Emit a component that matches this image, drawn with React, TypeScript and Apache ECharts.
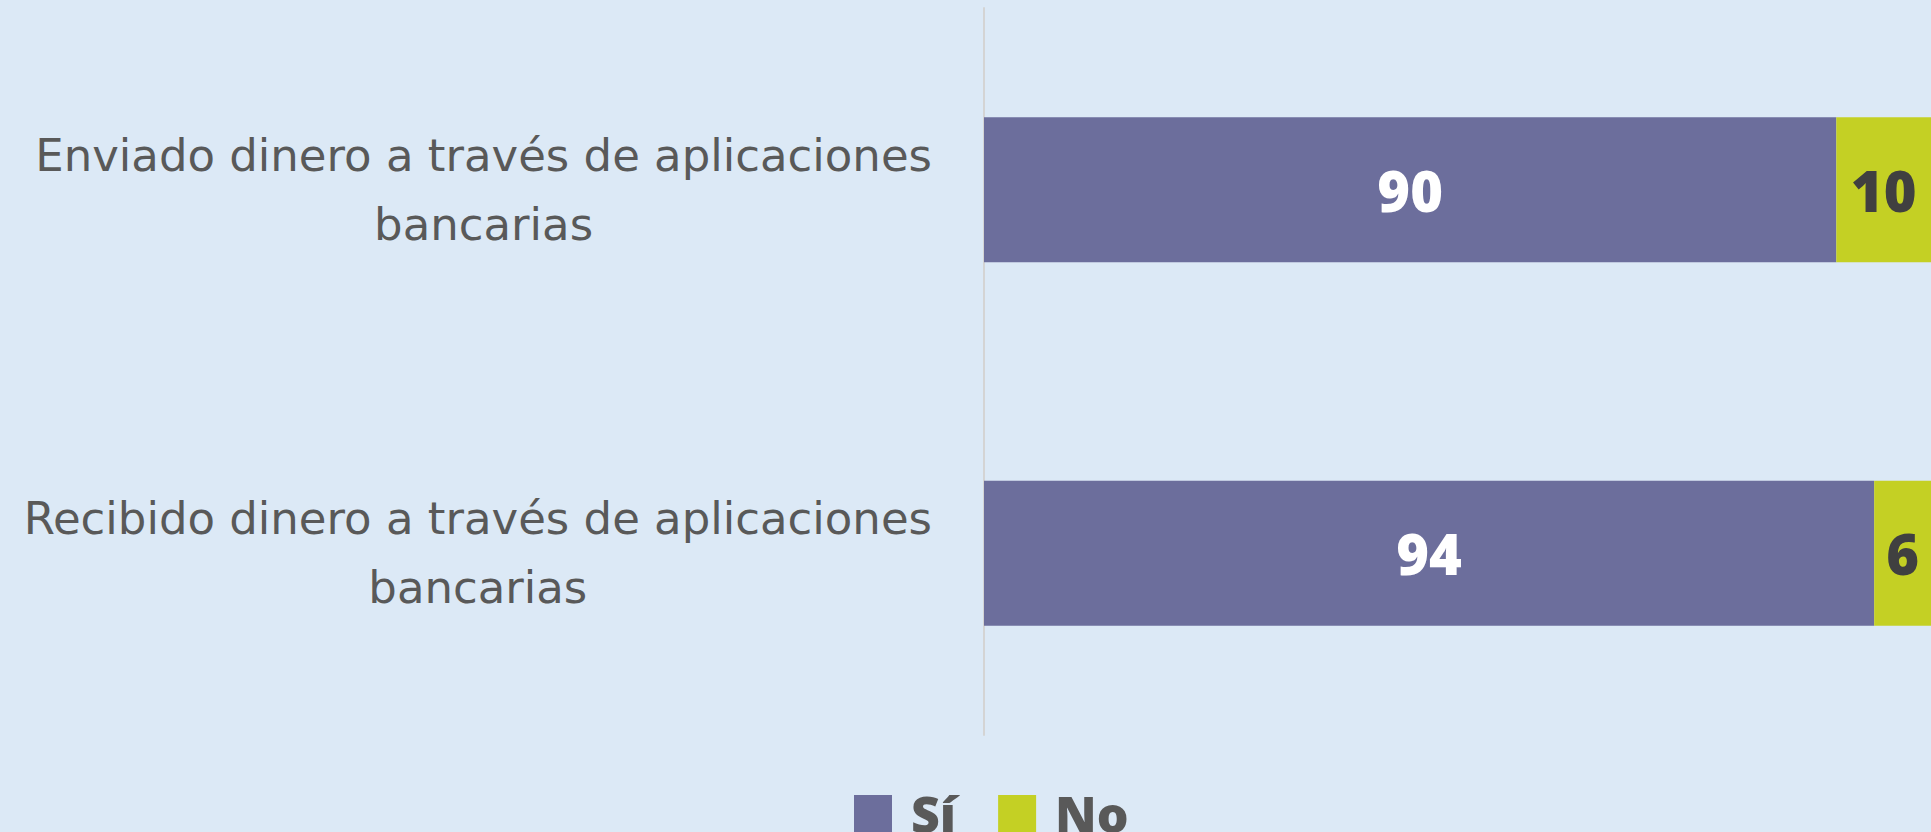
import React, { useEffect, useRef } from "react";
import * as echarts from "echarts";

const categories: string[] = [
  "Enviado dinero a través de aplicaciones bancarias",
  "Recibido dinero a través de aplicaciones bancarias",
];
const seriesNames: string[] = ["Sí", "No"];
const siValues: number[] = [90, 94];
const noValues: number[] = [10, 6];

const BG = "#DCE9F6";
const PURPLE = "#6C6E9C";
const YELLOW = "#C4D024";

export default function App() {
  const ref = useRef<HTMLDivElement>(null);
  useEffect(() => {
    if (!ref.current) return;
    const chart = echarts.init(ref.current, undefined, { renderer: "svg" });
    chart.setOption({
      animation: false,
      backgroundColor: BG,
      grid: { left: 984, right: 0, top: 8, bottom: 97, containLabel: false },
      legend: {
        data: seriesNames,
        left: 849,
        top: 771,
        icon: "rect",
        itemWidth: 38,
        itemHeight: 38,
        itemGap: 42,
        textStyle: {
          fontFamily: "Open Sans",
          fontWeight: 800,
          fontSize: 50,
          lineHeight: 60,
          color: "#595959",
          padding: [0, 0, 16, 14],
        },
      },
      xAxis: {
        type: "value",
        min: 0,
        max: 100,
        show: false,
        splitLine: { show: false },
      },
      yAxis: {
        type: "category",
        data: categories,
        inverse: true,
        axisLine: { show: true, lineStyle: { color: "#D4D4D4", width: 2 } },
        axisTick: { show: false },
        splitLine: { show: false },
        axisLabel: {
          margin: 52,
          align: "right",
          formatter: (v: string) => {
            const idx = v.lastIndexOf(" ");
            return `{a|${v.slice(0, idx)}}\n{a|${v.slice(idx + 1)}}`;
          },
          rich: {
            a: {
              align: "center",
              fontFamily: "DejaVu Sans",
              fontWeight: 400,
              fontSize: 45,
              lineHeight: 69,
              color: "#595959",
            },
          },
        },
      },
      series: [
        {
          name: seriesNames[0],
          type: "bar",
          stack: "total",
          barWidth: 145,
          data: siValues,
          itemStyle: { color: PURPLE },
          label: {
            show: true,
            position: "inside",
            color: "#FFFFFF",
            fontFamily: "Open Sans",
            fontWeight: 800,
            fontSize: 56,
          },
        },
        {
          name: seriesNames[1],
          type: "bar",
          stack: "total",
          barWidth: 145,
          data: noValues,
          itemStyle: { color: YELLOW },
          label: {
            show: true,
            position: "inside",
            color: "#404040",
            fontFamily: "Open Sans",
            fontWeight: 800,
            fontSize: 56,
          },
        },
      ],
    });
    return () => chart.dispose();
  }, []);
  return (
    <div
      ref={ref}
      style={{ position: "absolute", left: 0, top: 0, width: 1931, height: 832, background: BG }}
    />
  );
}
